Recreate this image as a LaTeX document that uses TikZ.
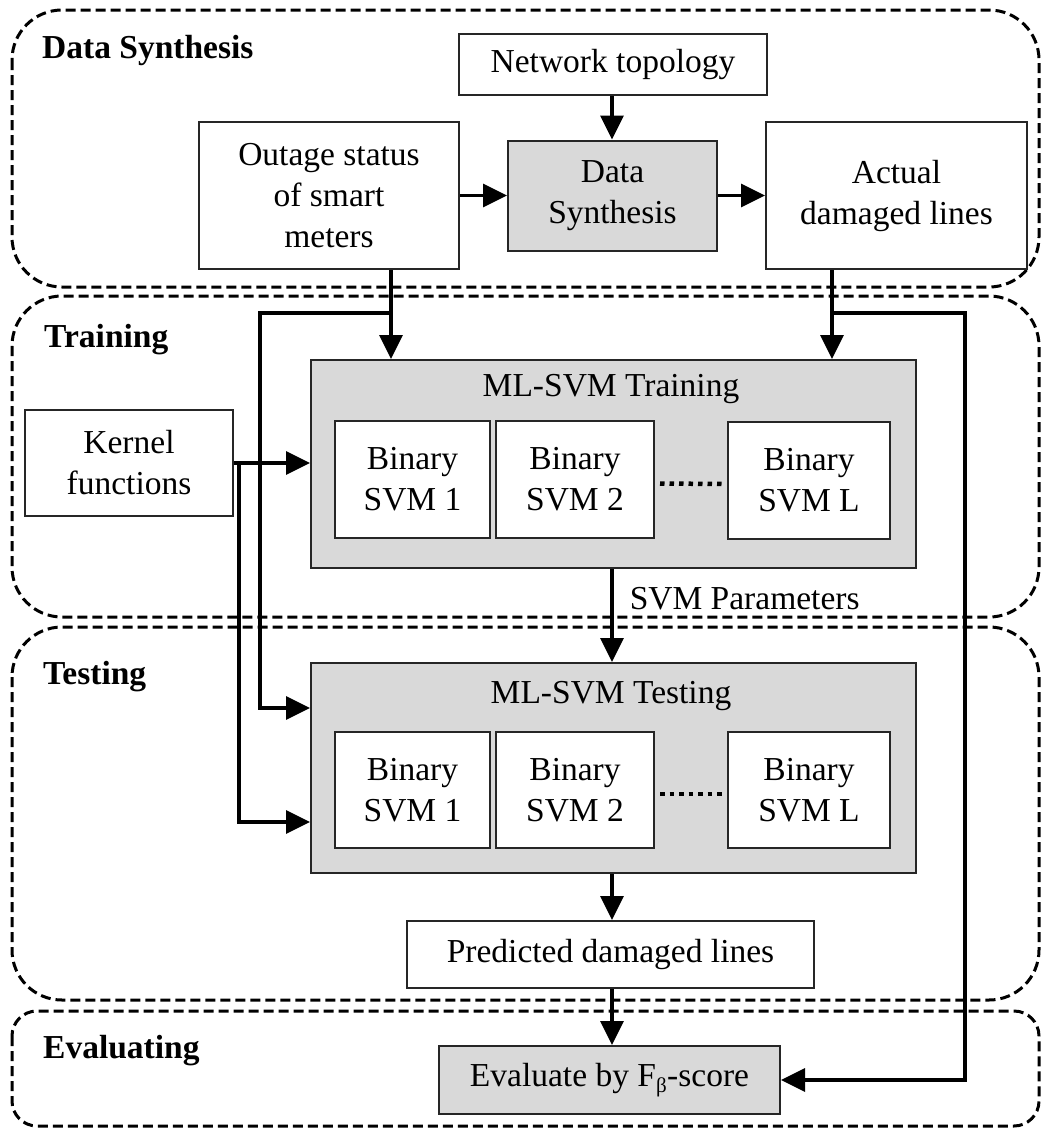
\documentclass[tikz,border=0pt]{standalone}
\usepackage{fontspec}
\setmainfont{Liberation Serif}
\usetikzlibrary{arrows.meta}
\definecolor{boxgray}{HTML}{D9D9D9}
\definecolor{edge}{HTML}{262626}
\tikzset{
  stage/.style={draw=black, line width=3pt, dash pattern=on 10pt off 5pt, rounded corners=50pt},
  stagetitle/.style={anchor=base west, font=\fontsize{33.5}{38}\selectfont\bfseries, inner sep=0pt},
  plainbox/.style={draw=edge, line width=2pt, fill=white, align=center, inner sep=0pt,
                   font=\fontsize{33.5}{41}\selectfont},
  graybox/.style={plainbox, fill=boxgray},
  flow/.style={line width=3.5pt, -{Triangle[length=24pt,width=23pt]}},
  dots/.style={line width=4.5pt, dash pattern=on 4.5pt off 5pt},
  txt/.style={font=\fontsize{33.5}{41}\selectfont, inner sep=0pt}
}
\begin{document}
\begin{tikzpicture}[x=1pt,y=-1pt]
\useasboundingbox (0,0) rectangle (1042,1128);

% stage frames
\draw[stage] (12,10) rectangle (1039,287);
\draw[stage] (12,296) rectangle (1039,617);
\draw[stage] (12,627) rectangle (1039,1000);
\draw[stage, rounded corners=25pt] (12,1011) rectangle (1039,1126);

\node[stagetitle] (tDS) at (42,58) {Data Synthesis};
\node[stagetitle] (tTR) at (44,347) {Training};
\node[stagetitle] (tTE) at (43,684) {Testing};
\node[stagetitle] (tEV) at (43,1058) {Evaluating};

% data synthesis
\node[plainbox, minimum width=308pt, minimum height=61pt] (net) at (613,64.5) {Network topology};
\node[plainbox, minimum width=260pt, minimum height=147pt] (outage) at (329,195.5) {Outage status\\of smart\\meters};
\node[graybox, minimum width=209pt, minimum height=110pt] (ds) at (612.5,195.5) {Data\\Synthesis};
\node[plainbox, minimum width=261pt, minimum height=147pt] (actual) at (896.5,195.5) {Actual\\damaged lines};

% training
\node[plainbox, minimum width=208pt, minimum height=106pt] (kernel) at (129,463) {Kernel\\functions};
\node[graybox, minimum width=605pt, minimum height=208pt] (train) at (613.5,464) {};
\node[txt] (trainlbl) at (611,389) {ML-SVM Training};
\node[plainbox, minimum width=155pt, minimum height=117pt] (tr1) at (412.5,479.5) {Binary\\SVM 1};
\node[plainbox, minimum width=158pt, minimum height=117pt] (tr2) at (575,479.5) {Binary\\SVM 2};
\node[plainbox, minimum width=162pt, minimum height=117pt] (trL) at (809,480) {Binary\\SVM L};

% testing
\node[graybox, minimum width=605pt, minimum height=210pt] (test) at (613.5,768) {};
\node[txt] (testlbl) at (611,696) {ML-SVM Testing};
\node[plainbox, minimum width=155pt, minimum height=116pt] (te1) at (412.5,790) {Binary\\SVM 1};
\node[plainbox, minimum width=158pt, minimum height=116pt] (te2) at (575,790) {Binary\\SVM 2};
\node[plainbox, minimum width=162pt, minimum height=116pt] (teL) at (809,790) {Binary\\SVM L};
\node[plainbox, minimum width=407pt, minimum height=67pt] (pred) at (610.5,954.5) {Predicted damaged lines};

% evaluating
\node[graybox, minimum width=341pt, minimum height=68pt] (eval) at (609.5,1080) {Evaluate by F\textsubscript{\fontsize{21}{21}\selectfont β}-score};

% dotted ellipses between the binary units
\draw[dots] (tr2.east) ++(5pt,-4pt) -- ([xshift=-3pt,yshift=-4pt]trL.west);
\draw[dots] (te2.east) ++(5pt,-4pt) -- ([xshift=-3pt,yshift=-4pt]teL.west);

% junction points
\coordinate (jo) at (391,313);
\coordinate (ja) at (832,313);
\coordinate (mid) at (612,0);
\coordinate (ty1) at (260,708);
\coordinate (ky) at (239,822);
\coordinate (er) at (965,1080);

% connectors
\draw[flow] (net.south -| mid) -- (ds.north -| mid);
\draw[flow] (outage.east) -- (ds.west);
\draw[flow] (ds.east) -- (actual.west);

\draw[flow] (outage.south -| jo) -- (train.north -| jo);
\draw[flow] (actual.south -| ja) -- (train.north -| ja);
\draw[flow] (jo) -| (ty1) -- (test.west |- ty1);
\draw[flow] (ja) -| (er) -- (eval.east |- er);

\draw[flow] (kernel.east) -- (train.west |- kernel.east);
\draw[flow] (kernel.east -| ky) -- (ky) -- (test.west |- ky);

\draw[flow] (train.south -| mid) -- node[txt, anchor=west, pos=0.32, xshift=16pt] (svmp) {SVM Parameters} (test.north -| mid);
\draw[flow] (test.south -| mid) -- (pred.north -| mid);
\draw[flow] (pred.south -| mid) -- (eval.north -| mid);
\end{tikzpicture}
\end{document}
